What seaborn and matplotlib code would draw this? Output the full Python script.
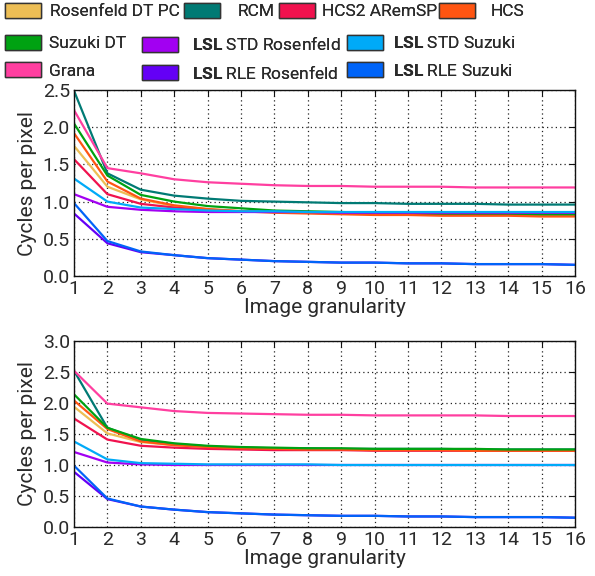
import numpy as np
import pandas as pd
import matplotlib
matplotlib.use("Agg")
import matplotlib.pyplot as plt
import seaborn as sns
from matplotlib.patches import Patch

# ---------------- data ----------------
granularity = list(range(1, 17))

methods = ["Rosenfeld DT PC", "RCM", "HCS2 ARemSP", "HCS", "Suzuki DT",
           "LSL STD Rosenfeld", "LSL STD Suzuki", "Grana",
           "LSL RLE Rosenfeld", "LSL RLE Suzuki"]

colors = ["#EDBE55", "#007A74", "#F0124E", "#FF5512", "#00A212",
          "#A200F2", "#00AAF8", "#FF3FA0", "#6400F6", "#0064F8"]

# top chart
top_rosenfeld_dt_pc = [1.75, 1.20, 1.03, 0.94, 0.90, 0.87, 0.86, 0.85, 0.84, 0.84, 0.83, 0.83, 0.82, 0.82, 0.82, 0.82]
top_rcm = [2.49, 1.38, 1.16, 1.08, 1.04, 1.01, 1.00, 0.99, 0.98, 0.98, 0.97, 0.97, 0.97, 0.96, 0.96, 0.96]
top_hcs2_aremsp = [1.57, 1.10, 0.97, 0.92, 0.89, 0.87, 0.86, 0.85, 0.84, 0.84, 0.83, 0.83, 0.83, 0.83, 0.83, 0.83]
top_hcs = [1.92, 1.27, 1.04, 0.95, 0.90, 0.87, 0.85, 0.84, 0.83, 0.82, 0.82, 0.81, 0.81, 0.81, 0.80, 0.80]
top_suzuki_dt = [2.05, 1.35, 1.09, 1.00, 0.94, 0.91, 0.88, 0.87, 0.86, 0.85, 0.85, 0.84, 0.84, 0.84, 0.83, 0.83]
top_lsl_std_rosenfeld = [1.10, 0.93, 0.89, 0.87, 0.86, 0.86, 0.86, 0.86, 0.85, 0.85, 0.85, 0.85, 0.85, 0.85, 0.85, 0.85]
top_lsl_std_suzuki = [1.31, 1.00, 0.92, 0.90, 0.88, 0.87, 0.87, 0.86, 0.86, 0.86, 0.86, 0.86, 0.86, 0.86, 0.86, 0.86]
top_grana = [2.23, 1.45, 1.38, 1.30, 1.26, 1.24, 1.22, 1.21, 1.21, 1.20, 1.20, 1.20, 1.19, 1.19, 1.19, 1.19]
top_lsl_rle_rosenfeld = [0.84, 0.44, 0.32, 0.28, 0.24, 0.22, 0.20, 0.19, 0.18, 0.18, 0.17, 0.17, 0.16, 0.16, 0.16, 0.15]
top_lsl_rle_suzuki = [0.98, 0.47, 0.33, 0.28, 0.24, 0.22, 0.20, 0.19, 0.18, 0.18, 0.17, 0.17, 0.16, 0.16, 0.16, 0.15]

# bottom chart
bot_rosenfeld_dt_pc = [1.94, 1.51, 1.37, 1.32, 1.29, 1.27, 1.26, 1.25, 1.25, 1.25, 1.24, 1.24, 1.24, 1.24, 1.24, 1.24]
bot_rcm = [2.52, 1.60, 1.40, 1.34, 1.30, 1.28, 1.27, 1.27, 1.26, 1.26, 1.26, 1.26, 1.25, 1.25, 1.25, 1.25]
bot_hcs2_aremsp = [1.75, 1.41, 1.31, 1.28, 1.26, 1.25, 1.24, 1.24, 1.24, 1.23, 1.23, 1.23, 1.23, 1.23, 1.23, 1.23]
bot_hcs = [2.04, 1.58, 1.38, 1.32, 1.29, 1.27, 1.26, 1.25, 1.25, 1.24, 1.24, 1.24, 1.23, 1.23, 1.23, 1.23]
bot_suzuki_dt = [2.14, 1.60, 1.42, 1.35, 1.31, 1.29, 1.28, 1.27, 1.27, 1.26, 1.26, 1.26, 1.26, 1.25, 1.25, 1.25]
bot_lsl_std_rosenfeld = [1.21, 1.04, 1.01, 1.00, 1.00, 1.00, 1.00, 1.00, 1.00, 1.00, 1.00, 1.00, 1.00, 1.00, 1.00, 1.00]
bot_lsl_std_suzuki = [1.38, 1.09, 1.03, 1.02, 1.01, 1.01, 1.01, 1.01, 1.00, 1.00, 1.00, 1.00, 1.00, 1.00, 1.00, 1.00]
bot_grana = [2.52, 1.99, 1.93, 1.87, 1.84, 1.83, 1.82, 1.81, 1.81, 1.80, 1.80, 1.80, 1.80, 1.79, 1.79, 1.79]
bot_lsl_rle_rosenfeld = [0.89, 0.45, 0.33, 0.28, 0.24, 0.22, 0.20, 0.19, 0.18, 0.18, 0.17, 0.17, 0.16, 0.16, 0.16, 0.15]
bot_lsl_rle_suzuki = [0.99, 0.46, 0.33, 0.28, 0.24, 0.22, 0.20, 0.19, 0.18, 0.18, 0.17, 0.17, 0.16, 0.16, 0.16, 0.15]

top_series = [top_rosenfeld_dt_pc, top_rcm, top_hcs2_aremsp, top_hcs, top_suzuki_dt,
              top_lsl_std_rosenfeld, top_lsl_std_suzuki, top_grana,
              top_lsl_rle_rosenfeld, top_lsl_rle_suzuki]
bot_series = [bot_rosenfeld_dt_pc, bot_rcm, bot_hcs2_aremsp, bot_hcs, bot_suzuki_dt,
              bot_lsl_std_rosenfeld, bot_lsl_std_suzuki, bot_grana,
              bot_lsl_rle_rosenfeld, bot_lsl_rle_suzuki]

top_yticks = [0.0, 0.5, 1.0, 1.5, 2.0, 2.5]
bot_yticks = [0.0, 0.5, 1.0, 1.5, 2.0, 2.5, 3.0]

legend_labels = ["Rosenfeld DT PC", "RCM", "HCS2 ARemSP", "HCS", "Suzuki DT",
                 r"$\mathbf{LSL}$ STD Rosenfeld", r"$\mathbf{LSL}$ STD Suzuki", "Grana",
                 r"$\mathbf{LSL}$ RLE Rosenfeld", r"$\mathbf{LSL}$ RLE Suzuki"]


def long_df(series):
    rows = []
    for m, vals in zip(methods, series):
        for g, v in zip(granularity, vals):
            rows.append((m, g, v))
    return pd.DataFrame(rows, columns=["method", "granularity", "cpp"])


# ---------------- style ----------------
sns.set_theme(style="white")
plt.rcParams["font.family"] = ["Roboto", "DejaVu Sans"]
plt.rcParams["mathtext.fontset"] = "custom"
plt.rcParams["mathtext.rm"] = "Roboto"
plt.rcParams["mathtext.bf"] = "Roboto:bold"
TXT = "#2a2a2a"
TICK_FS = 14
LABEL_FS = 15
LEG_FS = 12.5

W, H = 595, 576
fig = plt.figure(figsize=(W / 100, H / 100), dpi=100)
palette = dict(zip(methods, colors))

def px_axes(left, top, right, bottom):
    return fig.add_axes([left / W, 1 - bottom / H, (right - left) / W, (bottom - top) / H])

ax_top = px_axes(74, 90, 575, 276)
ax_bot = px_axes(74, 341, 575, 527)

for ax, series, yt in [(ax_top, top_series, top_yticks), (ax_bot, bot_series, bot_yticks)]:
    df = long_df(series)
    sns.lineplot(data=df, x="granularity", y="cpp", hue="method", hue_order=methods,
                 palette=palette, linewidth=1.6, legend=False, ax=ax)
    ax.set_xlim(1, 16)
    ax.set_ylim(yt[0], yt[-1])
    ax.set_xticks(granularity)
    ax.set_yticks(yt)
    ax.set_yticklabels([f"{v:.1f}" for v in yt])
    ax.grid(True, linestyle=(0, (1, 2.5)), color="#222222", linewidth=0.9)
    ax.tick_params(direction="in", top=True, right=True, length=4, width=0.8,
                   colors="#111111", labelcolor=TXT, labelsize=TICK_FS, pad=3)
    for s in ax.spines.values():
        s.set_color("#111111")
        s.set_linewidth(1.0)
    ax.set_xlabel("Image granularity", fontsize=LABEL_FS, color=TXT, labelpad=0)
    ax.set_ylabel("Cycles per pixel", fontsize=LABEL_FS, color=TXT, labelpad=4)

# ---------------- legends ----------------
handles = [Patch(facecolor=c, edgecolor="#333333", linewidth=1.0) for c in colors]

def place_legend(idx, x, y, pad=0.7):
    leg = fig.legend([handles[i] for i in idx], [legend_labels[i] for i in idx],
                     loc="upper left", bbox_to_anchor=(x / W, 1 - y / H),
                     bbox_transform=fig.transFigure, frameon=False, fontsize=LEG_FS,
                     handlelength=2.05, handleheight=0.95, handletextpad=pad,
                     labelspacing=0.62, borderpad=0, borderaxespad=0)
    for t in leg.get_texts():
        t.set_color(TXT)
    fig.add_artist(leg)
    return leg

place_legend([0], 5, 3, 0.55)
place_legend([1], 184, 3, 1.05)
place_legend([2], 279, 3, 0.45)
place_legend([3], 439, 3, 0.95)
place_legend([4, 7], 5, 35, 0.5)
place_legend([5, 8], 142, 35, 0.85)
place_legend([6, 9], 347, 35, 0.6)

fig.savefig("out.png", dpi=100)
